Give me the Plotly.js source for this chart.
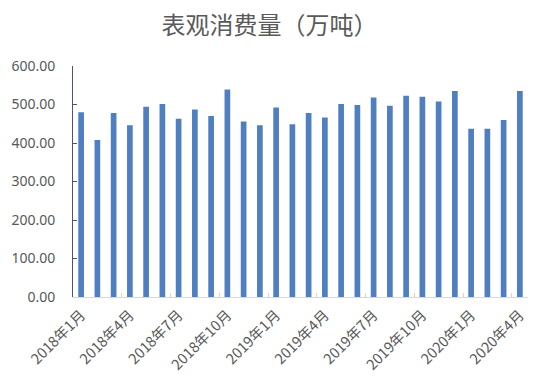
<!DOCTYPE html>
<html><head><meta charset="utf-8">
<script src="https://cdn.plot.ly/plotly-3.0.1.min.js"></script>
<style>html,body{margin:0;padding:0;background:#fff}#chart{width:550px;height:389px}</style>
</head><body><div id="chart"></div>
<script>
const months = ["2018年1月","2018年2月","2018年3月","2018年4月","2018年5月","2018年6月","2018年7月","2018年8月","2018年9月","2018年10月","2018年11月","2018年12月","2019年1月","2019年2月","2019年3月","2019年4月","2019年5月","2019年6月","2019年7月","2019年8月","2019年9月","2019年10月","2019年11月","2019年12月","2020年1月","2020年2月","2020年3月","2020年4月"];
const consumption = [480,408,478,446,494,501,463,487,470,539,456,446,492,449,478,466,501,499,518,497,523,520,508,535,437,437,460,535];
const yTicks = [0,100,200,300,400,500,600];
const yTickText = yTicks.map(v => v.toFixed(2));

Plotly.newPlot('chart', [{
  type: 'bar',
  x: months,
  y: consumption,
  marker: {color: '#4f7fc0'},
  hoverinfo: 'x+y'
}], {
  width: 550, height: 389,
  margin: {l: 72.5, r: 22, t: 66, b: 92},
  paper_bgcolor: '#fff', plot_bgcolor: '#fff',
  bargap: 0.65,
  title: {text: '表观消费量（万吨）', x: 0.49, xanchor: 'center', y: 0.935, yanchor: 'middle',
          font: {family: 'Noto Sans CJK SC', size: 24, color: '#5a5a5a'}},
  font: {family: 'Noto Sans, Noto Sans CJK SC', color: '#595959'},
  xaxis: {
    type: 'category', tickmode: 'linear', dtick: 3, tick0: 0,
    tickangle: -45, tickfont: {size: 14.5, color: '#595959', family: 'Noto Sans CJK SC'},
    showline: true, linecolor: '#d9d9d9', linewidth: 1,
    ticks: 'inside', tickson: 'boundaries', ticklen: 4, tickcolor: '#e2d2b8',
    showgrid: false, zeroline: false, ticklabelstandoff: 3
  },
  yaxis: {
    range: [0, 600], tickvals: yTicks, ticktext: yTickText,
    tickfont: {size: 14, color: '#595959'},
    showline: true, linecolor: '#4a5868', linewidth: 1,
    ticks: 'inside', ticklen: 4, tickcolor: '#4a5868',
    showgrid: false, zeroline: false, ticklabelstandoff: 14
  },
  showlegend: false
}, {displayModeBar: false, staticPlot: true});
</script></body></html>
